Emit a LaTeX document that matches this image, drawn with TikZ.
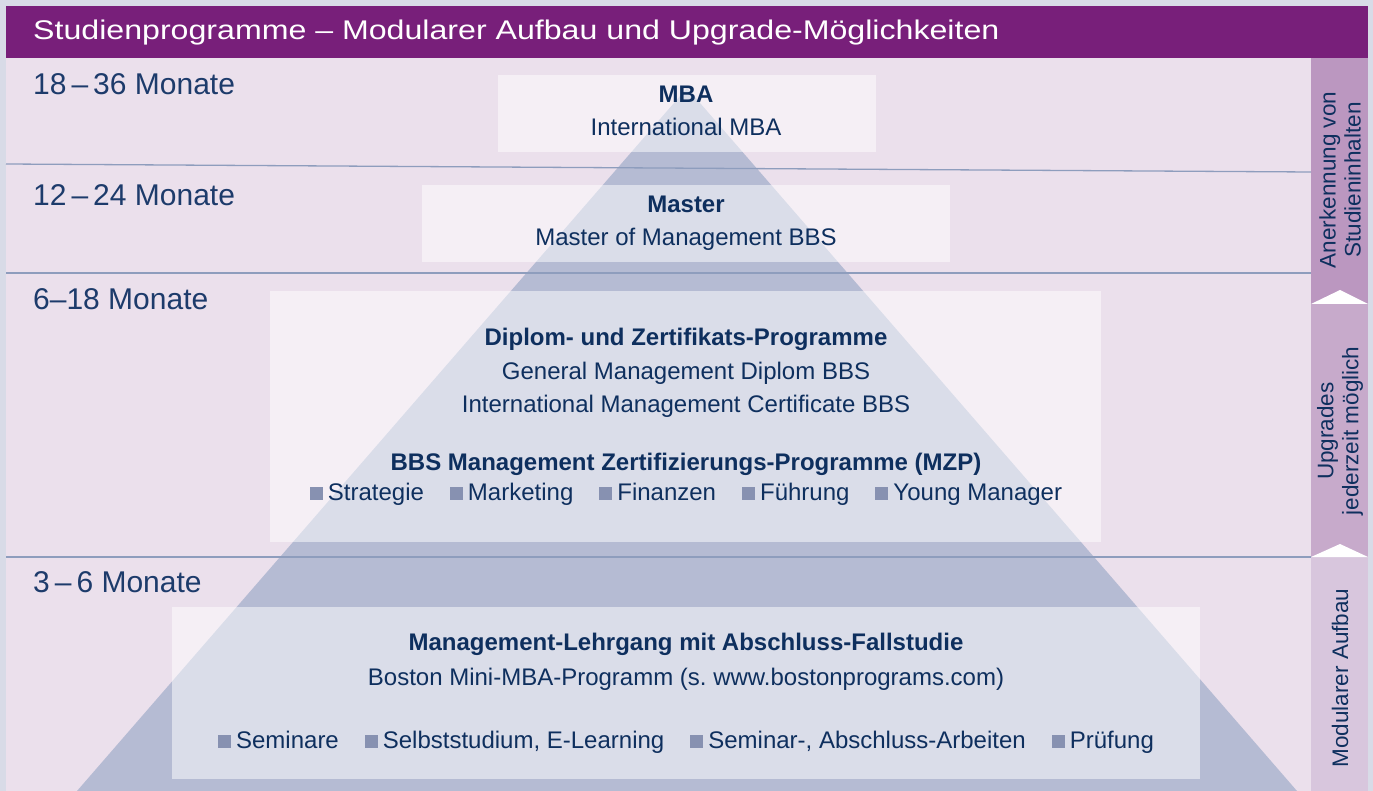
\documentclass[tikz,border=0pt]{standalone}
\usepackage{fontspec}
\setmainfont{Liberation Sans}
\usepackage{graphicx}
\frenchspacing
\definecolor{bgout}{HTML}{D8DBE7}
\definecolor{panel}{HTML}{EBE0EC}
\definecolor{hdr}{HTML}{781F7A}
\definecolor{pyr}{HTML}{B5BBD3}
\definecolor{sepc}{HTML}{8E9DBD}
\definecolor{navy}{HTML}{0E2F5E}
\definecolor{durc}{HTML}{1D3B6B}
\definecolor{colA}{HTML}{BB97C0}
\definecolor{colB}{HTML}{C7AACB}
\definecolor{colC}{HTML}{D8C6DD}
\definecolor{bulc}{HTML}{8791B1}
\newcommand\sqbul{\textcolor{bulc}{\rule{13pt}{13pt}}\hspace{5pt}}
\newcommand\bgap{\hspace{26pt}}
\begin{document}
\begin{tikzpicture}[x=1pt,y=-1pt,
  dur/.style={anchor=base west, text=durc, inner sep=0pt, font=\fontsize{30}{34}\selectfont},
  txt/.style={anchor=base, text=navy, inner sep=0pt, font=\fontsize{24}{28}\selectfont},
  btxt/.style={anchor=base, text=navy, inner sep=0pt, font=\fontsize{24}{28}\selectfont\bfseries},
  side/.style={rotate=90, text=navy, align=center, inner sep=0pt, font=\fontsize{22.5}{25}\selectfont},
  wbox/.style={fill=white, fill opacity=0.5},
  sepline/.style={draw=sepc, line width=1.3pt}
]
\useasboundingbox (0,0) rectangle (1373,791);
\fill[bgout] (0,0) rectangle (1373,791);
% panel
\fill[panel] (6,58) rectangle (1311,791);
% header
\fill[hdr] (6,6) rectangle (1368,58);
\node[anchor=base west, text=white, inner sep=0pt, font=\fontsize{27}{30}\selectfont] (title) at (33,40)
  {\scalebox{1.19}[1]{Studienprogramme – Modularer Aufbau und Upgrade-Möglichkeiten}};
% right column
\fill[colA] (1311,58) rectangle (1368,304);
\fill[colB] (1311,304) rectangle (1368,557);
\fill[colC] (1311,557) rectangle (1368,791);
\fill[white] (1311,304) -- (1340,290) -- (1368,304) -- cycle;
\fill[white] (1311,557) -- (1340,544) -- (1368,557) -- cycle;
\node[side] (s1) at (1340,180) {Anerkennung von\\Studieninhalten};
\node[side] (s2) at (1340,431) {Upgrades\\jederzeit möglich};
\node[side] (s3) at (1340,678) {Modularer Aufbau};
% pyramid
\fill[pyr] (687,88) -- (77,791) -- (1297,791) -- cycle;
% separator lines
\draw[sepline] (6,164) -- (1311,172);
\draw[sepline] (6,273) -- (1311,273);
\draw[sepline] (6,557) -- (1311,557);
% boxes
\fill[wbox] (498,75) rectangle (876,152);
\fill[wbox] (422,185) rectangle (950,262);
\fill[wbox] (270,291) rectangle (1101,542);
\fill[wbox] (172,607) rectangle (1200,779);
% durations
\node[dur] (d1) at (33,95) {18\,–\,36 Monate};
\node[dur] (d2) at (33,206) {12\,–\,24 Monate};
\node[dur] (d3) at (33,310) {6–18 Monate};
\node[dur] (d4) at (33,592) {3\,–\,6 Monate};
% MBA
\node[btxt] (mba1) at (686,103) {MBA};
\node[txt] (mba2) at (686,136) {International MBA};
% Master
\node[btxt] (ma1) at (686,213) {Master};
\node[txt] (ma2) at (686,246) {Master of Management BBS};
% Diplom
\node[btxt] (dp1) at (686,346) {Diplom- und Zertifikats-Programme};
\node[txt] (dp2) at (686,379) {General Management Diplom BBS};
\node[txt] (dp3) at (686,412) {International Management Certificate BBS};
\node[btxt] (dp4) at (686,470) {BBS Management Zertifizierungs-Programme (MZP)};
\node[txt] (dp5) at (686,500) {\sqbul Strategie\bgap\sqbul Marketing\bgap\sqbul Finanzen\bgap\sqbul Führung\bgap\sqbul Young Manager};
% Management-Lehrgang
\node[btxt] (ml1) at (686,650) {Management-Lehrgang mit Abschluss-Fallstudie};
\node[txt] (ml2) at (686,685) {Boston Mini-MBA-Programm (s. www.bostonprograms.com)};
\node[txt] (ml3) at (686,748) {\sqbul Seminare\bgap\sqbul Selbststudium, E-Learning\bgap\sqbul Seminar-, Abschluss-Arbeiten\bgap\sqbul Prüfung};
\end{tikzpicture}
\end{document}
